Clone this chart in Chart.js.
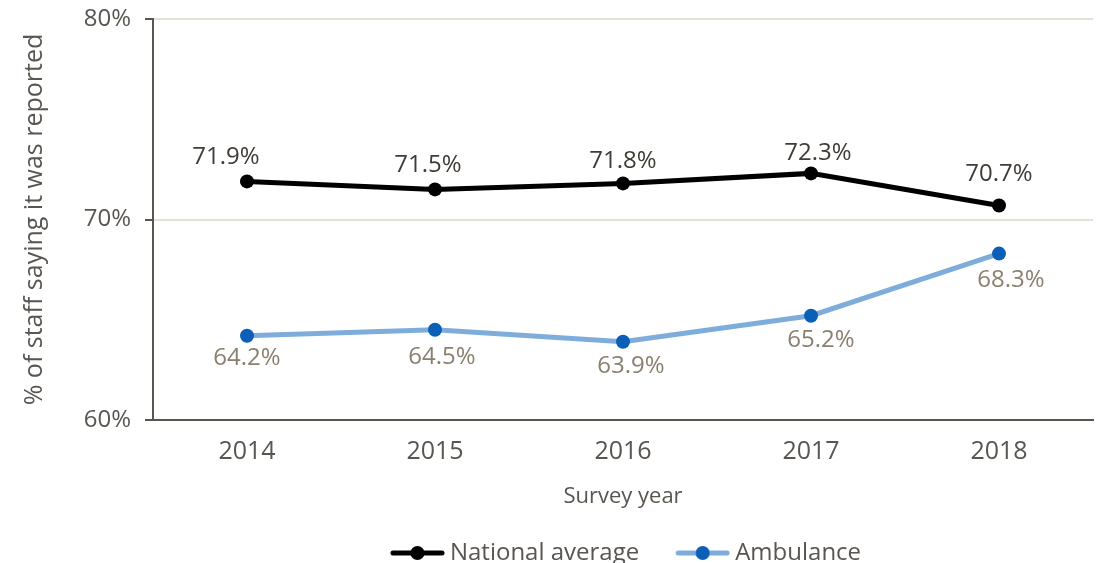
<!DOCTYPE html>
<html>
<head>
<meta charset="utf-8">
<script src="https://cdn.jsdelivr.net/npm/chart.js@4"></script>
<style>
  html, body { margin: 0; padding: 0; background: #fff; overflow: hidden; }
  canvas { display: block; }
</style>
</head>
<body>
<canvas id="chart" width="1097" height="575"></canvas>
<script>
// データ
const years = ['2014', '2015', '2016', '2017', '2018'];
const nationalAverage = [71.9, 71.5, 71.8, 72.3, 70.7];
const ambulance = [64.2, 64.5, 63.9, 65.2, 68.3];
const yTicks = [60, 70, 80];

const FONT = '"Open Sans", "Noto Sans", sans-serif';
const TEXT = '#595550';

// 凡例用の線＋点の画像（右寄せで描いて文字との間を詰める）
function legendIcon(lineColor, dotColor) {
    const c = document.createElement('canvas');
    c.width = 78;
    c.height = 16;
    const g = c.getContext('2d');
    g.strokeStyle = lineColor;
    g.lineWidth = 5;
    g.lineCap = 'round';
    g.beginPath();
    g.moveTo(26, 8);
    g.lineTo(75, 8);
    g.stroke();
    g.fillStyle = dotColor;
    g.beginPath();
    g.arc(50.5, 8, 7, 0, Math.PI * 2);
    g.fill();
    return c;
}

// データラベル（位置は元の図に合わせて少しずらす）
const valueLabels = {
    id: 'valueLabels',
    afterDatasetsDraw(chart) {
        const ctx = chart.ctx;
        ctx.save();
        ctx.font = '24px ' + FONT;
        ctx.textAlign = 'center';
        ctx.textBaseline = 'middle';
        chart.data.datasets.forEach((ds, i) => {
            const meta = chart.getDatasetMeta(i);
            meta.data.forEach((pt, j) => {
                ctx.fillStyle = ds.labelColor;
                ctx.fillText(ds.data[j].toFixed(1) + '%', pt.x + ds.labelDx[j], pt.y + ds.labelDy[j]);
            });
        });
        ctx.restore();
    }
};

// 凡例を右へ寄せる
const legendShift = {
    id: 'legendShift',
    afterLayout(chart) {
        chart.legend.left += 71;
        chart.legend.right += 71;
    }
};

const ctx = document.getElementById('chart').getContext('2d');
new Chart(ctx, {
    type: 'line',
    data: {
        labels: years,
        datasets: [{
            label: 'National average',
            data: nationalAverage,
            borderColor: '#000000',
            backgroundColor: '#000000',
            borderWidth: 5,
            pointRadius: 7,
            pointHoverRadius: 7,
            pointBorderWidth: 0,
            labelColor: '#3f3b36',
            labelDx: [-21, -7, 0, 7, 0],
            labelDy: [-24, -24, -22, -20, -31],
            icon: legendIcon('#000000', '#000000')
        }, {
            label: 'Ambulance',
            data: ambulance,
            borderColor: '#7faddb',
            backgroundColor: '#0b5fb6',
            borderWidth: 5,
            pointRadius: 7,
            pointHoverRadius: 7,
            pointBorderWidth: 0,
            labelColor: '#8a806f',
            labelDx: [0, 7, 8, 10, 12],
            labelDy: [22, 27, 24, 24, 27],
            icon: legendIcon('#7faddb', '#0b5fb6')
        }]
    },
    options: {
        responsive: false,
        animation: false,
        layout: { autoPadding: false, padding: { top: 19, right: 4, left: 0, bottom: 0 } },
        plugins: {
            legend: {
                position: 'bottom',
                labels: {
                    usePointStyle: true,
                    pointStyleWidth: 64,
                    padding: 20,
                    color: TEXT,
                    font: { family: FONT, size: 24 },
                    generateLabels(chart) {
                        return chart.data.datasets.map((ds, i) => ({
                            text: ds.label,
                            pointStyle: ds.icon,
                            fontColor: TEXT,
                            lineWidth: 0,
                            strokeStyle: 'transparent',
                            fillStyle: 'transparent',
                            datasetIndex: i
                        }));
                    }
                }
            },
            tooltip: { enabled: false }
        },
        scales: {
            x: {
                offset: true,
                grid: { display: false, drawTicks: false },
                border: { color: '#5a554e', width: 2 },
                ticks: { color: TEXT, font: { family: FONT, size: 25 }, padding: 17 },
                title: {
                    display: true,
                    text: 'Survey year',
                    color: TEXT,
                    font: { family: FONT, size: 22 },
                    padding: { top: 3, bottom: 11 }
                },
                afterFit(scale) {
                    scale.height = 101;
                    scale.paddingLeft = 0;
                    scale.paddingRight = 0;
                }
            },
            y: {
                min: 60,
                max: 80,
                afterBuildTicks(scale) {
                    scale.ticks = yTicks.map(v => ({ value: v }));
                },
                grid: { color: '#e3e0da', lineWidth: 2, tickColor: '#5a554e', tickLength: 8 },
                border: { color: '#5a554e', width: 2 },
                ticks: {
                    color: TEXT,
                    font: { family: FONT, size: 24 },
                    padding: 14,
                    callback: v => v + '%'
                },
                title: {
                    display: true,
                    text: '% of staff saying it was reported',
                    color: TEXT,
                    font: { family: FONT, size: 25 },
                    padding: { top: 20, bottom: 0 }
                },
                afterFit(scale) {
                    scale.width = 153;
                    scale.paddingTop = 0;
                    scale.paddingBottom = 0;
                }
            }
        }
    },
    plugins: [valueLabels, legendShift]
});
</script>
</body>
</html>
